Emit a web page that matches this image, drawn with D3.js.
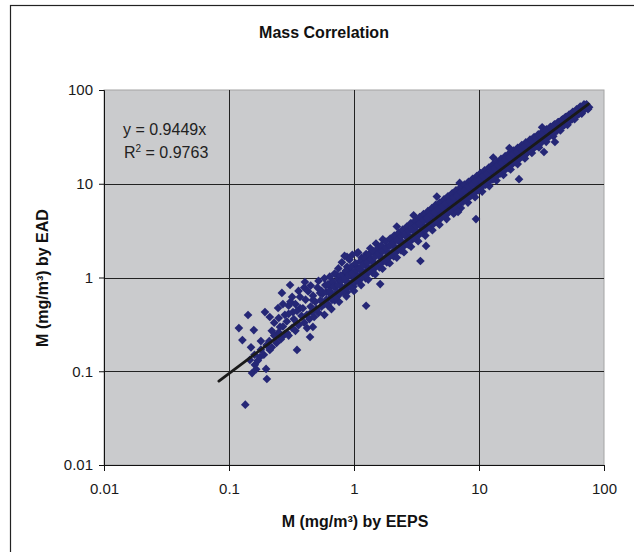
<!DOCTYPE html>
<html>
<head>
<meta charset="utf-8">
<script src="https://d3js.org/d3.v7.min.js"></script>
<style>
  body { margin: 0; background: #fff; }
  svg { font-family: "Liberation Sans", Arial, sans-serif; }
  .tick text { font-size: 15px; fill: #1a1a1a; }
  .axis-title { font-size: 16px; font-weight: bold; fill: #111; }
  .chart-title { font-size: 16px; font-weight: bold; fill: #111; }
  .eq { font-size: 16px; fill: #222; }
</style>
</head>
<body>
<div id="chart"></div>
<script>
// ---------- data (mg/m3) ----------
var tickValues = [0.01, 0.1, 1, 10, 100];
var slope = 0.9449;
var rSquared = 0.9763;
var trendRange = [0.083, 75];

// sparse low end, [EEPS, EAD]
var lowPoints = [
  [0.142,0.398],[0.120,0.289],[0.158,0.275],[0.128,0.215],[0.194,0.428],[0.212,0.379],
  [0.247,0.473],[0.265,0.684],[0.308,0.832],[0.405,0.895],[0.35,0.169],[0.201,0.0826],
  [0.198,0.106],[0.153,0.0957],[0.161,0.117],[0.147,0.132],[0.177,0.142],[0.212,0.169],
  [0.265,0.232],[0.256,0.297],[0.35,0.327],[0.421,0.289],[0.469,0.297],[0.291,0.256],
  [0.37,0.473],[0.325,0.428],[0.469,0.575],[0.535,0.684],[0.643,0.792],[0.731,1.06],
  [0.879,1.66],[1.06,1.82],
  [0.16,0.15],[0.17,0.13],[0.18,0.17],[0.19,0.15],[0.20,0.19],[0.21,0.21],[0.22,0.18],
  [0.23,0.24],[0.24,0.20],[0.25,0.26],[0.26,0.22],[0.27,0.30],[0.28,0.25],[0.29,0.34],
  [0.18,0.21],[0.22,0.27],[0.15,0.18],[0.165,0.105],[0.25,0.37],[0.28,0.40],[0.30,0.50],
  [0.32,0.62],[0.27,0.52],[0.23,0.33],[0.36,0.72],[0.40,0.78],[0.45,0.82],[0.52,0.92],
  [0.58,0.98]
];

// main band, lower half of the range
var midPoints = [
  [0.30,0.24],[0.30,0.41],[0.31,0.55],[0.32,0.29],[0.33,0.36],[0.34,0.52],[0.34,0.27],
  [0.35,0.44],[0.36,0.31],[0.37,0.62],[0.38,0.39],[0.39,0.47],[0.40,0.33],[0.41,0.58],
  [0.42,0.40],[0.43,0.71],[0.44,0.36],[0.45,0.49],[0.46,0.43],[0.47,0.64],[0.48,0.38],
  [0.49,0.55],[0.50,0.46],[0.51,0.78],[0.52,0.42],[0.54,0.57],[0.55,0.49],[0.56,0.67],
  [0.58,0.52],[0.59,0.83],[0.60,0.58],[0.62,0.50],[0.63,0.69],[0.65,0.61],[0.66,0.88],
  [0.68,0.64],[0.70,0.57],[0.71,0.79],[0.73,0.70],[0.75,0.96],[0.76,0.66],[0.78,0.82],
  [0.80,0.74],[0.82,1.08],[0.84,0.77],[0.86,0.92],[0.88,0.70],[0.90,0.88],[0.92,1.15],
  [0.94,0.86],[0.97,1.02],[0.99,0.80],[1.02,0.97],[1.04,1.32],[1.07,1.05],[1.10,0.93],
  [1.12,1.22],[1.15,1.09],[1.18,1.45],[1.21,1.13],[1.24,0.98],[1.27,1.30],[1.30,1.21],
  [1.34,1.58],[1.37,1.27],[1.41,1.12],[1.44,1.44],[1.48,1.36],[1.52,1.75],[1.56,1.42],
  [1.60,1.28],[1.64,1.63],[1.69,1.54],[1.73,1.96],[1.78,1.62],[1.83,1.45],[1.87,1.84],
  [1.92,1.75],[1.97,2.22],[2.03,1.86],[2.08,1.68],[2.14,2.10],[2.20,1.98],[2.26,2.48],
  [2.32,2.12],[2.38,1.95],[2.45,2.36],[2.51,2.26],[2.58,2.80],[2.65,2.44],[2.72,2.24],
  [2.80,2.71],[2.87,2.60],[2.95,3.18],[3.03,2.80],[3.11,2.62],[3.20,3.08],[3.28,2.96],
  [3.37,3.58],[3.46,3.18],[3.56,2.98],[3.65,3.50],[3.75,3.36],[3.85,4.02],[3.96,3.62],
  [0.80,1.45],[0.84,1.70],[0.92,1.55],[0.97,1.75],[1.08,1.85],[1.15,1.62],[1.25,1.78],
  [1.35,2.05],[1.50,2.30],[1.70,2.55],[0.88,1.30],[0.75,1.25],[0.70,1.10],[0.64,1.02],
  [2.2,3.5],[3.0,4.6]
];

// main band, upper half of the range
var highPoints = [
  [4.07,4.15],[4.18,3.89],[4.29,4.72],[4.41,3.88],[4.53,4.39],[4.65,4.88],[4.78,4.30],
  [4.91,5.01],[5.04,4.69],[5.18,5.70],[5.32,4.68],[5.46,5.30],[5.61,5.89],[5.77,5.19],
  [5.92,6.04],[6.09,5.66],[6.25,6.88],[6.42,5.65],[6.60,6.40],[6.78,7.12],[6.96,6.26],
  [7.15,7.29],[7.35,6.84],[7.55,8.31],[7.75,6.82],[7.96,7.72],[8.18,8.59],[8.41,7.57],
  [8.63,8.80],[8.87,8.25],[9.11,10.0],[9.36,8.24],[9.62,9.33],[9.88,10.4],[10.1,9.1],
  [10.4,10.6],[10.7,9.95],[11.0,12.1],[11.3,9.94],[11.6,11.25],[11.9,12.5],[12.2,11.0],
  [12.6,12.85],[12.9,12.0],[13.3,14.6],[13.6,11.97],[14.0,13.6],[14.4,15.1],[14.8,13.3],
  [15.2,15.5],[15.6,14.5],[16.0,17.6],[16.4,14.4],[16.9,16.4],[17.3,18.2],[17.8,16.0],
  [18.3,18.7],[18.8,17.5],[19.3,21.2],[19.8,17.4],[20.4,19.8],[20.9,21.9],[21.5,19.35],
  [22.1,22.5],[22.7,21.1],[23.3,25.6],[23.9,21.0],[24.6,23.9],[25.2,26.5],[25.9,23.3],
  [26.6,27.1],[27.4,25.5],[28.1,30.0],[28.9,25.4],[29.7,28.8],[30.5,32.0],[31.3,28.2],
  [32.2,32.8],[33.0,30.7],[33.9,35.6],[34.9,30.7],[35.8,34.7],[36.8,38.2],[37.8,34.0],
  [38.8,39.1],[39.9,36.7],[41.0,42.6],[42.1,37.0],[43.2,41.9],[44.4,45.3],[45.6,41.0],
  [46.9,46.4],[48.2,44.3],[49.5,50.0],[50.8,44.7],[52.2,50.1],[53.6,54.1],[55.1,49.6],
  [56.6,55.5],[58.1,53.5],[59.7,59.4],[61.3,54.6],[63.0,60.5],[64.7,62.8],[66.4,59.1],
  [68.2,65.5],[70.1,63.8],[72.0,68.4],[74.0,66.6],[76.0,65.4],
  [4.6,7.3],[7.0,10.2],[13.0,19.0],[17.5,24.0],[32.0,40.0]
];

// upper and lower edge of the band
var upperEdge = [
  [0.55,0.72],[0.62,0.85],[0.68,0.90],[0.78,1.05],[0.86,1.18],[0.95,1.30],[1.03,1.42],
  [1.13,1.50],[1.22,1.62],[1.32,1.78],[1.42,1.90],[1.55,2.05],[1.66,2.20],[1.80,2.42],
  [1.95,2.60],[2.10,2.80],[2.28,3.00],[2.45,3.25],[2.65,3.50],[2.85,3.80],[3.10,4.05],
  [3.35,4.40],[3.60,4.75],[3.90,5.10],[4.20,5.50],[4.50,5.95],[4.85,6.30],[5.25,6.80],
  [5.65,7.35],[6.10,7.90],[6.55,8.50],[7.10,9.10],[7.65,9.80],[8.25,10.5],[8.90,11.3],
  [9.60,12.1],[10.3,13.0],[11.1,13.9],[12.0,14.9],[12.9,16.0],[13.9,17.1],[15.0,18.4],
  [16.2,19.7],[17.5,21.1],[18.9,22.6],[20.4,24.2],[22.0,25.9],[23.7,27.6],[25.6,29.5],
  [27.6,31.5],[29.8,33.6],[32.1,35.8],[34.6,38.0],[37.3,40.5],[40.2,43.0],[43.3,45.6],
  [46.7,48.5],[50.3,51.8],[54.2,55.0],[58.4,58.5],[63.0,62.5],[67.9,66.5],[72.5,70.5]
];
var lowerEdge = [
  [0.58,0.40],[0.66,0.46],[0.76,0.55],[0.87,0.63],[1.00,0.72],[1.14,0.83],[1.30,0.95],
  [1.48,1.08],[1.69,1.24],[1.93,1.42],[2.20,1.63],[2.51,1.86],[2.86,2.13],[3.26,2.44],
  [3.72,2.80],[4.24,3.20],[4.83,3.66],[5.51,4.20],[6.28,4.80],[7.16,5.50],[8.16,6.30],
  [9.30,7.20],[10.6,8.25],[12.1,9.45],[13.8,10.8],[15.7,12.4],[17.9,14.2],[20.4,16.2],
  [23.3,18.6],[26.5,21.3],[30.2,24.4],[34.5,28.0],[39.3,32.2],[44.8,37.0],[51.1,42.5],
  [58.2,48.8],[66.4,56.0],[74.5,62.5]
];

// filler inside the band (just above / just below the fit)
var bandAbove = [
  [0.6,0.70],[0.64,0.72],[0.69,0.80],[0.74,0.83],[0.79,0.92],[0.85,0.96],[0.91,1.06],
  [0.97,1.10],[1.04,1.21],[1.11,1.25],[1.19,1.38],[1.28,1.44],[1.37,1.58],[1.47,1.66],
  [1.57,1.82],[1.68,1.89],[1.80,2.08],[1.93,2.17],[2.07,2.38],[2.22,2.50],[2.38,2.74],
  [2.55,2.86],[2.73,3.13],[2.92,3.28],[3.13,3.58],[3.35,3.76],[3.59,4.10],[3.85,4.31],
  [4.12,4.70],[4.42,4.95],[4.73,5.38],[5.07,5.67],[5.43,6.17],[5.82,6.50],[6.23,7.07],
  [6.68,7.45],[7.15,8.10],[7.66,8.53],[8.21,9.28],[8.79,9.78],[9.42,10.6],[10.1,11.2],
  [10.8,12.1],[11.6,12.8],[12.4,13.9],[13.3,14.7],[14.2,15.8],[15.2,16.7],[16.3,18.1],
  [17.5,19.2],[18.7,20.7],[20.1,21.9],[21.5,23.7],[23.0,25.0],[24.7,27.0],[26.4,28.5],
  [28.3,30.7],[30.3,32.5],[32.5,35.0],[34.8,37.0],[37.3,39.8],[39.9,42.0],[42.8,45.3],
  [45.8,47.8],[49.1,51.5],[52.6,54.6],[56.3,58.5],[60.3,62.0],[64.6,66.5],[69.2,70.2]
];
var bandBelow = [
  [0.62,0.52],[0.67,0.58],[0.72,0.61],[0.77,0.67],[0.82,0.70],[0.88,0.77],[0.94,0.80],
  [1.01,0.88],[1.08,0.92],[1.16,1.01],[1.24,1.06],[1.33,1.16],[1.42,1.21],[1.52,1.33],
  [1.63,1.39],[1.75,1.52],[1.87,1.60],[2.00,1.74],[2.15,1.84],[2.30,2.00],[2.46,2.11],
  [2.64,2.30],[2.83,2.43],[3.03,2.64],[3.25,2.79],[3.48,3.03],[3.73,3.20],[4.0,3.48],
  [4.28,3.68],[4.59,4.00],[4.92,4.23],[5.27,4.59],[5.65,4.86],[6.05,5.27],[6.48,5.58],
  [6.95,6.06],[7.45,6.42],[7.98,6.96],[8.55,7.37],[9.16,7.99],[9.82,8.47],[10.5,9.17],
  [11.3,9.75],[12.1,10.6],[12.9,11.1],[13.9,12.1],[14.9,12.9],[15.9,13.9],[17.1,14.8],
  [18.3,16.0],[19.6,17.0],[21.0,18.4],[22.5,19.5],[24.1,21.1],[25.8,22.4],[27.7,24.2],
  [29.7,25.8],[31.8,27.8],[34.1,29.7],[36.5,32.0],[39.1,34.1],[41.9,36.8],[44.9,39.2],
  [48.1,42.2],[51.6,45.2],[55.3,48.6],[59.2,51.9],[63.5,55.9],[68.0,59.7]
];

// clear outliers
var outliers = [
  [0.135,0.044],[0.445,0.232],[1.25,0.50],[1.62,0.85],[3.4,1.5],[3.77,2.17],
  [6.8,5.0],[9.46,4.2],[20.9,11.2],[33.1,21.8],[40.5,27.9]
];

var allPoints = lowPoints.concat(midPoints, highPoints, upperEdge, lowerEdge,
                                 bandAbove, bandBelow, outliers);

// ---------- layout ----------
var width = 634, height = 552;
var plot = { left: 104, top: 90, right: 604, bottom: 465 };

var svg = d3.select("#chart").append("svg")
  .attr("width", width)
  .attr("height", height);

// outer chart frame (cut off at right / bottom)
svg.append("rect")
  .attr("x", 10.5).attr("y", 5.5)
  .attr("width", 700).attr("height", 700)
  .attr("fill", "#fff")
  .attr("stroke", "#222")
  .attr("stroke-width", 1.2);

var x = d3.scaleLog().domain([0.01, 100]).range([plot.left, plot.right]);
var y = d3.scaleLog().domain([0.01, 100]).range([plot.bottom, plot.top]);

// plot background
svg.append("rect")
  .attr("x", plot.left).attr("y", plot.top)
  .attr("width", plot.right - plot.left)
  .attr("height", plot.bottom - plot.top)
  .attr("fill", "#cacbcd")
  .attr("stroke", "#a4a4a4")
  .attr("stroke-width", 1);

// gridlines
var grid = svg.append("g");
grid.selectAll(".gx")
  .data(tickValues.slice(1, -1))
  .enter().append("line")
  .attr("x1", function(d) { return Math.round(x(d)) + 0.5; })
  .attr("x2", function(d) { return Math.round(x(d)) + 0.5; })
  .attr("y1", plot.top).attr("y2", plot.bottom)
  .attr("stroke", "#222").attr("stroke-width", 1);
grid.selectAll(".gy")
  .data(tickValues.slice(1, -1))
  .enter().append("line")
  .attr("y1", function(d) { return Math.round(y(d)) + 0.5; })
  .attr("y2", function(d) { return Math.round(y(d)) + 0.5; })
  .attr("x1", plot.left).attr("x2", plot.right)
  .attr("stroke", "#222").attr("stroke-width", 1);

// points
var diamond = d3.symbol().type(d3.symbolDiamond2).size(48);
svg.append("g")
  .selectAll("path")
  .data(allPoints)
  .enter().append("path")
  .attr("d", diamond)
  .attr("transform", function(d) { return "translate(" + x(d[0]) + "," + y(d[1]) + ")"; })
  .attr("fill", "#252776");

// trend line
svg.append("line")
  .attr("x1", x(trendRange[0])).attr("y1", y(slope * trendRange[0]))
  .attr("x2", x(trendRange[1])).attr("y2", y(slope * trendRange[1]))
  .attr("stroke", "#1a1a1a")
  .attr("stroke-width", 2.8)
  .attr("stroke-linecap", "round");

// axes
var fmt = d3.format("~g");
var yAxis = svg.append("g")
  .attr("transform", "translate(" + plot.left + ",0)")
  .call(d3.axisLeft(y).tickValues(tickValues).tickFormat(fmt).tickSize(5).tickPadding(6));
var xAxis = svg.append("g")
  .attr("transform", "translate(0," + plot.bottom + ")")
  .call(d3.axisBottom(x).tickValues(tickValues).tickFormat(fmt).tickSize(6).tickPadding(12));
[yAxis, xAxis].forEach(function(a) {
  a.select(".domain").attr("stroke", "#111");
  a.selectAll(".tick line").attr("stroke", "#111");
  a.selectAll(".tick text").attr("font-family", null).attr("font-size", null);
});

// titles
svg.append("text")
  .attr("class", "chart-title")
  .attr("x", 324).attr("y", 38)
  .attr("text-anchor", "middle")
  .text("Mass Correlation");

svg.append("text")
  .attr("class", "axis-title")
  .attr("x", 355).attr("y", 527)
  .attr("text-anchor", "middle")
  .text("M (mg/m³) by EEPS");

svg.append("text")
  .attr("class", "axis-title")
  .attr("transform", "translate(48,278) rotate(-90)")
  .attr("text-anchor", "middle")
  .text("M (mg/m³) by EAD");

// regression label
svg.append("text").attr("class", "eq")
  .attr("x", 123).attr("y", 135)
  .text("y = " + slope + "x");
var r2 = svg.append("text").attr("class", "eq")
  .attr("x", 124).attr("y", 158);
r2.append("tspan").text("R");
r2.append("tspan").attr("font-size", "10px").attr("dy", -6).text("2");
r2.append("tspan").attr("dy", 6).text(" = " + rSquared);
</script>
</body>
</html>
